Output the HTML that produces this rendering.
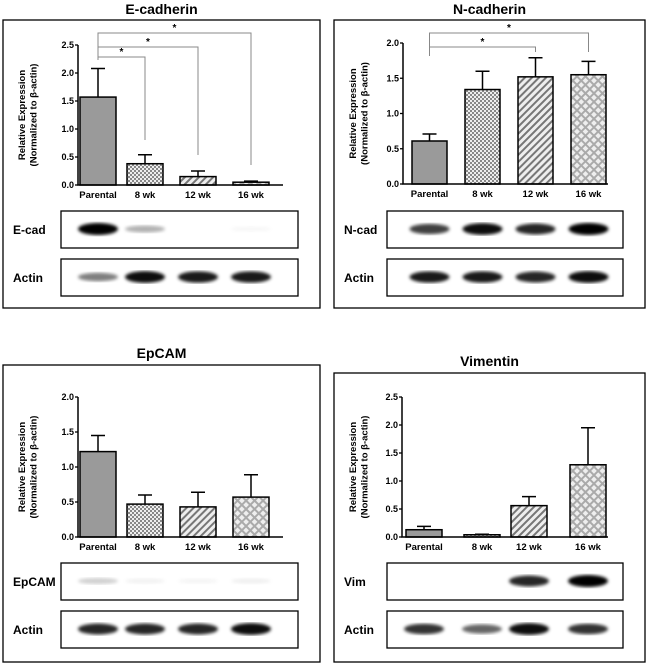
<!DOCTYPE html>
<html><head><meta charset="utf-8"><style>
body{margin:0;background:#fff}
svg{display:block;font-family:"Liberation Sans",Arial,sans-serif}
</style></head><body>
<svg id="fig" width="650" height="663" viewBox="0 0 650 663">
<defs>
<pattern id="checker" width="4" height="4" patternUnits="userSpaceOnUse"><rect width="4" height="4" fill="#eee"/><rect width="2" height="2" fill="#888"/><rect x="2" y="2" width="2" height="2" fill="#888"/></pattern>
<pattern id="hatch" width="5" height="5" patternUnits="userSpaceOnUse" patternTransform="rotate(45)"><rect width="5" height="5" fill="#eee"/><rect width="2" height="5" fill="#777"/></pattern>
<pattern id="cross" width="6" height="6" patternUnits="userSpaceOnUse" patternTransform="rotate(45)"><rect width="6" height="6" fill="#aaa"/><rect x="1" y="1" width="4" height="4" fill="#eee"/></pattern>
<filter id="blur"><feGaussianBlur stdDeviation="1.6"/></filter>
</defs>
</svg>
<script>
const categories = ["Parental","8 wk","12 wk","16 wk"];
const ecadValues = [1.57,0.38,0.15,0.05];
const ecadErrors = [0.51,0.16,0.10,0.02];
const ncadValues = [0.61,1.34,1.52,1.55];
const ncadErrors = [0.10,0.26,0.27,0.19];
const epcamValues = [1.22,0.47,0.43,0.57];
const epcamErrors = [0.23,0.13,0.21,0.32];
const vimValues = [0.13,0.04,0.56,1.29];
const vimErrors = [0.06,0.01,0.16,0.66];
const ticks25 = ["0.0","0.5","1.0","1.5","2.0","2.5"];
const ticks20 = ["0.0","0.5","1.0","1.5","2.0"];
const ecadBands = [1.0,0.3,0,0.03];
const ncadBands = [0.75,0.95,0.85,1.0];
const epcamBands = [0.18,0.05,0.04,0.06];
const vimBands = [0,0,0.85,1.0];
const actinE = [0.5,0.95,0.9,0.9];
const actinN = [0.9,0.9,0.85,0.95];
const actinEp = [0.85,0.85,0.85,0.95];
const actinV = [0.8,0.6,0.95,0.8];

const svg=document.getElementById('fig');
const NS='http://www.w3.org/2000/svg';
function mk(tag,attrs,parent){const e=document.createElementNS(NS,tag);for(const k in attrs)e.setAttribute(k,attrs[k]);(parent||svg).appendChild(e);return e;}
function txt(x,y,s,size,anchor,parent){const t=mk('text',{x:x,y:y,'font-size':size,'font-weight':'bold','text-anchor':anchor||'middle',fill:'#000'},parent);t.textContent=s;return t;}

const fills=['#9a9a9a','url(#checker)','url(#hatch)','url(#cross)'];

function panel(o){
  const g=mk('g',{});
  
  
  const tt=txt(o.bx+(o.bw/2),o.titleY,o.title,14,'middle',g);
  
  
  const box=mk('rect',{x:o.bx,y:o.by,width:o.bw,height:o.bh,fill:'none',stroke:'#000','stroke-width':1.3},g);
  
  
  const maxV=o.ticks.length===6?2.5:2.0;
  const y=v=>o.y0-(v/maxV)*(o.y0-o.yTop);
  const bx=i=>o.barX[i];
  const yl=mk('g',{transform:`translate(${o.ytx},${(o.yTop+o.y0)/2}) rotate(-90)`},g);
  
  
  txt(0,0,'Relative Expression',9.5,'middle',yl);
  txt(0,11.5,'(Normalized to \u03b2-actin)',9.5,'middle',yl);
  o.values.forEach((v,i)=>{
    const x=bx(i),w=o.barW;
    const top=y(v+o.errors[i]);
    const e=mk('path',{d:`M${x+w/2},${y(v)} V${top} M${x+w/2-7},${top} H${x+w/2+7}`,stroke:'#000','stroke-width':1.5},g);
    
    
    const r=mk('rect',{x:x,y:y(v),width:w,height:o.y0-y(v),fill:fills[i],stroke:'#000','stroke-width':1.5},g);
    
    
    const cl=txt(x+w/2,o.y0+13,categories[i],9.5,'middle',g);
    
    
  });
  const ax=mk('path',{d:`M${o.ax},${o.yTop} V${o.y0} H${o.axEnd}`,stroke:'#000','stroke-width':1.5,fill:'none'},g);
  
  
  o.ticks.forEach((t,i)=>{const v=parseFloat(t);mk('line',{x1:o.ax-3,x2:o.ax,y1:y(v),y2:y(v),stroke:'#000','stroke-width':1.3},g);
    const tl=txt(o.ax-4,y(v)+3,t,9,'end',g);
    
    });
  (o.sig||[]).forEach(s=>{
    const x0=bx(0)+o.barW/2, x1=bx(s.to)+o.barW/2;
    const p=mk('path',{d:`M${x0},${o.sigBase} V${s.y} H${x1} V${s.down}`,stroke:'#888','stroke-width':1,fill:'none'},g);
    
    
    txt((x0+x1)/2,s.y-2,'*',10,'middle',g);
  });
  [[o.blotLabel,o.bands,o.blotY1,true],['Actin',o.actin,o.blotY2,false]].forEach(([lab,bands,by,main])=>{
    const bg=mk('g',{},g);
    
    
    mk('rect',{x:o.blotX,y:by,width:o.blotW,height:37,fill:'#fff',stroke:'#000','stroke-width':1.3},bg);
    txt(o.bx+10,by+23,lab,12,'start',bg);
    const cy=by+18;
    bands.forEach((a,i)=>{ if(a<=0)return;
      const cx=bx(i)+o.barW/2;
      mk('ellipse',{cx:cx,cy:cy,rx:20,ry:2.5+a*3.5,fill:'#000','fill-opacity':Math.min(1,a),filter:'url(#blur)'},bg);
    });
  });
}
panel({name:'e-cadherin',title:'E-cadherin',titleY:14,bx:3,by:20,bw:317,bh:288,ax:78,axEnd:283,yTop:45,y0:185,ytx:25,
  ticks:ticks25,values:ecadValues,errors:ecadErrors,barX:[80,127,180,233],barW:36,sigBase:60,
  sig:[{to:1,y:57,down:140},{to:2,y:47,down:155},{to:3,y:33,down:165}],
  blotLabel:'E-cad',bands:ecadBands,actin:actinE,blotX:61,blotW:237,blotY1:211,blotY2:259});
panel({name:'n-cadherin',title:'N-cadherin',titleY:14,bx:334,by:20,bw:311,bh:288,ax:403,axEnd:608,yTop:43,y0:184,ytx:356,
  ticks:ticks20,values:ncadValues,errors:ncadErrors,barX:[412,465,518,571],barW:35,sigBase:56,
  sig:[{to:2,y:47,down:52},{to:3,y:33,down:52}],
  blotLabel:'N-cad',bands:ncadBands,actin:actinN,blotX:387,blotW:236,blotY1:211,blotY2:259});
panel({name:'epcam',title:'EpCAM',titleY:358,bx:3,by:365,bw:317,bh:297,ax:78,axEnd:283,yTop:397,y0:537,ytx:25,
  ticks:ticks20,values:epcamValues,errors:epcamErrors,barX:[80,127,180,233],barW:36,
  blotLabel:'EpCAM',bands:epcamBands,actin:actinEp,blotX:61,blotW:237,blotY1:563,blotY2:611});
panel({name:'vimentin',title:'Vimentin',titleY:366,bx:334,by:373,bw:311,bh:289,ax:402,axEnd:608,yTop:397,y0:537,ytx:356,
  ticks:ticks25,values:vimValues,errors:vimErrors,barX:[406,464,511,570],barW:36,
  blotLabel:'Vim',bands:vimBands,actin:actinV,blotX:387,blotW:236,blotY1:563,blotY2:611});
</script>
</body></html>
